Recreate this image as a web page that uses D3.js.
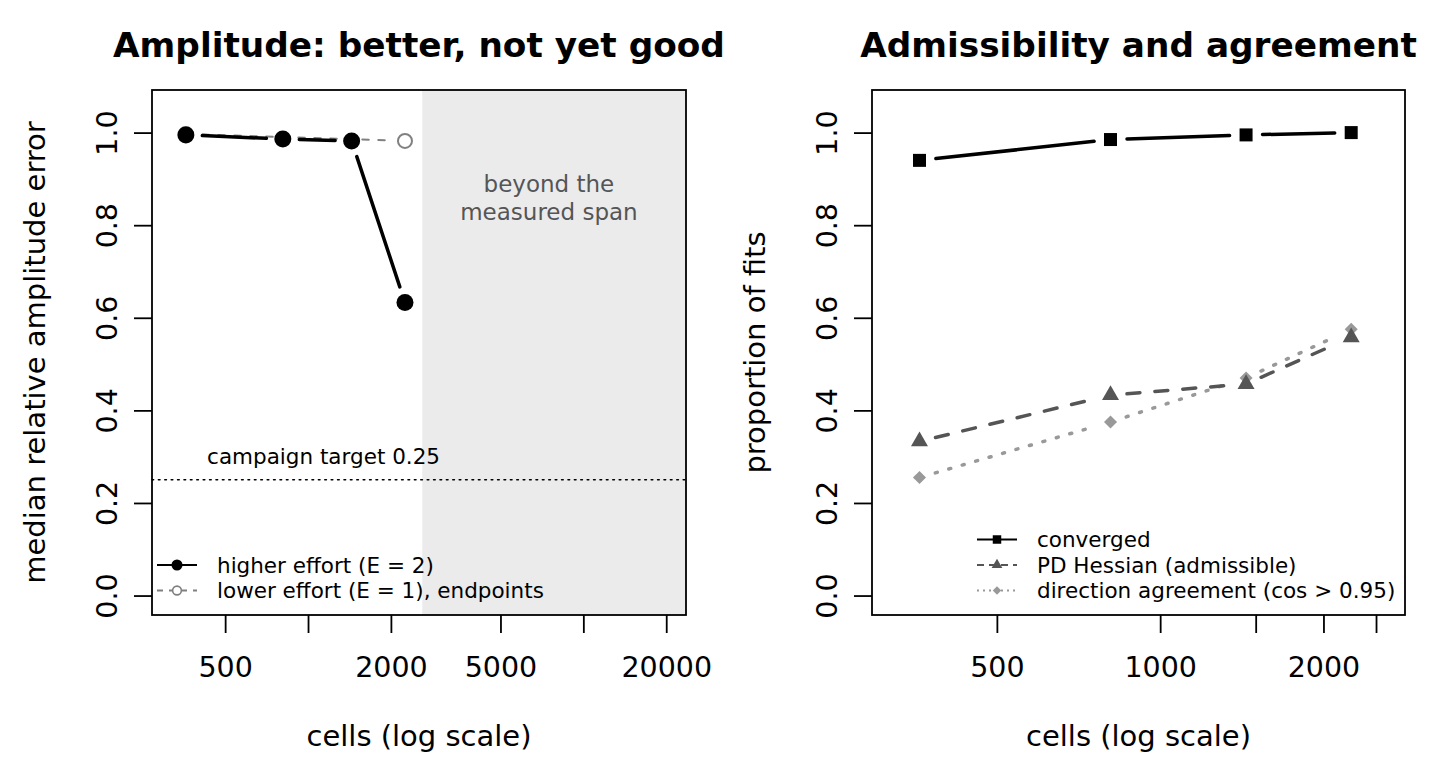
<!DOCTYPE html>
<html>
<head>
<meta charset="utf-8">
<title>Amplitude and admissibility</title>
<script src="https://cdn.jsdelivr.net/npm/d3@7"></script>
<style>
  html, body { margin: 0; background: #fff; }
  svg { font-family: "DejaVu Sans", sans-serif; }
</style>
</head>
<body>
<script>
// ---- data ----
var cells          = [360, 810, 1440, 2250];
var higherEffort   = [0.995, 0.986, 0.982, 0.633];
var lowerCells     = [360, 2250];
var lowerEffort    = [0.997, 0.982];
var converged      = [0.94, 0.985, 0.995, 1.0];
var pdHessian      = [0.333, 0.433, 0.457, 0.558];
var directionAgree = [0.255, 0.375, 0.47, 0.575];
var targetValue    = 0.25;
var spanLimit      = 2600;

var yTicks       = [0, 0.2, 0.4, 0.6, 0.8, 1.0];
var leftXTicks   = [500, 1000, 2000, 5000, 10000, 20000];
var leftXLabels  = ["500", "", "2000", "5000", "", "20000"];
var rightXTicks  = [500, 1000, 1500, 2000, 2500];
var rightXLabels = ["500", "1000", "", "2000", ""];
var leftLegend   = ["higher effort (E = 2)", "lower effort (E = 1), endpoints"];
var rightLegend  = ["converged", "PD Hessian (admissible)", "direction agreement (cos > 0.95)"];

// ---- layout ----
var W = 1440, H = 768;
var plotTop = 90, plotBottom = 615;
var svg = d3.select("body").append("svg").attr("width", W).attr("height", H);

// R style log limits: 4% padding on each side
function logLim(a, b) {
  var la = Math.log10(a), lb = Math.log10(b), d = (lb - la) * 0.04;
  return [Math.pow(10, la - d), Math.pow(10, lb + d)];
}
var xL = d3.scaleLog().domain(logLim(320, 20000)).range([152, 686]);
var xR = d3.scaleLog().domain(logLim(320, 2600)).range([872, 1405]);
var y  = d3.scaleLinear().domain([-0.042, 1.092]).range([plotBottom, plotTop]);

// segments of a type="b" line: gaps left around every point
function gapSegments(xs, ys, xsc, gap) {
  var segs = [];
  for (var i = 0; i < xs.length - 1; i++) {
    var x1 = xsc(xs[i]), y1 = y(ys[i]), x2 = xsc(xs[i + 1]), y2 = y(ys[i + 1]);
    var len = Math.hypot(x2 - x1, y2 - y1);
    if (len <= 2 * gap) continue;
    var ux = (x2 - x1) / len, uy = (y2 - y1) / len;
    segs.push([x1 + ux * gap, y1 + uy * gap, x2 - ux * gap, y2 - uy * gap]);
  }
  return segs;
}

function drawSeries(g, xs, ys, xsc, st) {
  g.append("g").selectAll("line")
    .data(gapSegments(xs, ys, xsc, 16.5))
    .enter().append("line")
    .attr("x1", function(d) { return d[0]; })
    .attr("y1", function(d) { return d[1]; })
    .attr("x2", function(d) { return d[2]; })
    .attr("y2", function(d) { return d[3]; })
    .attr("stroke", st.color)
    .attr("stroke-width", st.width)
    .attr("stroke-linecap", "round")
    .attr("stroke-dasharray", st.dash || null);

  g.append("g").selectAll("path")
    .data(xs.map(function(x, i) { return [x, ys[i]]; }))
    .enter().append("path")
    .attr("d", d3.symbol().type(st.symbol).size(st.size))
    .attr("transform", function(d) {
      return "translate(" + xsc(d[0]) + "," + y(d[1]) + ")" + (st.rotate ? " rotate(45)" : "");
    })
    .attr("fill", st.open ? "none" : st.color)
    .attr("stroke", st.open ? st.color : "none")
    .attr("stroke-width", st.open ? 2 : 0);
}

function drawLegend(g, labels, styles, x0, rows) {
  labels.forEach(function(lab, i) {
    var st = styles[i], yy = rows[i];
    g.append("line")
      .attr("x1", x0).attr("x2", x0 + 40).attr("y1", yy).attr("y2", yy)
      .attr("stroke", st.color).attr("stroke-width", 2)
      .attr("stroke-dasharray", st.legendDash || null);
    g.append("path")
      .attr("d", d3.symbol().type(st.symbol).size(st.legendSize))
      .attr("transform", "translate(" + (x0 + 20) + "," + yy + ")" + (st.rotate ? " rotate(45)" : ""))
      .attr("fill", st.open ? "#fff" : st.color)
      .attr("stroke", st.open ? st.color : "none")
      .attr("stroke-width", st.open ? 1.6 : 0);
    g.append("text")
      .attr("x", x0 + 60).attr("y", yy).attr("dy", "0.36em")
      .attr("font-size", 21.5).attr("fill", "#000")
      .text(lab);
  });
}

function drawAxes(g, xsc, ticks, labels, title, ytitle) {
  var x0 = xsc.range()[0], x1 = xsc.range()[1];

  var ax = g.append("g").attr("transform", "translate(0," + plotBottom + ")")
    .call(d3.axisBottom(xsc).tickValues(ticks)
      .tickFormat(function(d, i) { return labels[i]; })
      .tickSize(18).tickPadding(24));
  ax.select(".domain").remove();
  ax.selectAll("line").attr("stroke", "#000").attr("stroke-width", 1.8);
  ax.selectAll("text").attr("font-size", 28.5).attr("fill", "#000")
    .attr("font-family", "DejaVu Sans");

  var ay = g.append("g").attr("transform", "translate(" + x0 + ",0)")
    .call(d3.axisLeft(y).tickValues(yTicks).tickFormat(d3.format(".1f")).tickSize(18));
  ay.select(".domain").remove();
  ay.selectAll("line").attr("stroke", "#000").attr("stroke-width", 1.8);
  ay.selectAll("text")
    .attr("x", null).attr("dy", "0.36em")
    .attr("transform", "translate(-45,0) rotate(-90)")
    .attr("text-anchor", "middle")
    .attr("font-size", 28.5).attr("fill", "#000")
    .attr("font-family", "DejaVu Sans");

  g.append("rect")
    .attr("x", x0).attr("y", plotTop).attr("width", x1 - x0).attr("height", plotBottom - plotTop)
    .attr("fill", "none").attr("stroke", "#000").attr("stroke-width", 1.8);

  g.append("text")
    .attr("x", (x0 + x1) / 2).attr("y", 57)
    .attr("text-anchor", "middle").attr("font-size", 34.3).attr("font-weight", "bold")
    .text(title);

  g.append("text")
    .attr("x", (x0 + x1) / 2).attr("y", 746)
    .attr("text-anchor", "middle").attr("font-size", 29)
    .text("cells (log scale)");

  g.append("text")
    .attr("transform", "translate(" + (x0 - 117) + "," + ((plotTop + plotBottom) / 2) + ") rotate(-90)")
    .attr("dy", "0.36em")
    .attr("text-anchor", "middle").attr("font-size", 29)
    .text(ytitle);
}

// ---- left panel ----
var gl = svg.append("g");
gl.append("rect")
  .attr("x", xL(spanLimit)).attr("y", plotTop)
  .attr("width", xL.range()[1] - xL(spanLimit)).attr("height", plotBottom - plotTop)
  .attr("fill", "#ebebeb");

gl.append("text")
  .attr("x", xL(7500)).attr("y", y(0.86)).attr("text-anchor", "middle")
  .attr("font-size", 23).attr("fill", "#555")
  .selectAll("tspan").data(["beyond the", "measured span"]).enter().append("tspan")
  .attr("x", xL(7500)).attr("dy", function(d, i) { return i === 0 ? "-0.25em" : "1.25em"; })
  .text(function(d) { return d; });

gl.append("line")
  .attr("x1", xL.range()[0]).attr("x2", xL.range()[1])
  .attr("y1", y(targetValue)).attr("y2", y(targetValue))
  .attr("stroke", "#000").attr("stroke-width", 1.6)
  .attr("stroke-dasharray", "1.6,4.8").attr("stroke-linecap", "round");
gl.append("text")
  .attr("x", xL(430)).attr("y", y(0.30)).attr("dy", "0.36em")
  .attr("font-size", 21.5).text("campaign target " + targetValue);

var stHigh  = { color: "#000", width: 3.5, symbol: d3.symbolCircle, size: 227, legendSize: 95 };
var stLow   = { color: "#808080", width: 2, dash: "6.5,9.5", legendDash: "6,6", symbol: d3.symbolCircle,
                size: 154, legendSize: 60, open: true };

drawSeries(gl, lowerCells, lowerEffort, xL, stLow);
drawSeries(gl, cells, higherEffort, xL, stHigh);
drawLegend(gl, leftLegend, [stHigh, stLow], 157, [565, 590.5]);
drawAxes(gl, xL, leftXTicks, leftXLabels, "Amplitude: better, not yet good",
         "median relative amplitude error");

// ---- right panel ----
var gr = svg.append("g");
var stConv = { color: "#000", width: 3.5, symbol: d3.symbolSquare, size: 169, legendSize: 72 };
var stPD   = { color: "#555555", width: 3.5, dash: "13,15", legendDash: "7,5", symbol: d3.symbolTriangle,
               size: 125, legendSize: 50 };
var stDir  = { color: "#999999", width: 3.5, dash: "2,12", legendDash: "2,4", symbol: d3.symbolSquare,
               size: 85, legendSize: 36, rotate: true };

drawSeries(gr, cells, directionAgree, xR, stDir);
drawSeries(gr, cells, pdHessian, xR, stPD);
drawSeries(gr, cells, converged, xR, stConv);
drawLegend(gr, rightLegend, [stConv, stPD, stDir], 977, [539.5, 565, 590.5]);
drawAxes(gr, xR, rightXTicks, rightXLabels, "Admissibility and agreement", "proportion of fits");
</script>
</body>
</html>
